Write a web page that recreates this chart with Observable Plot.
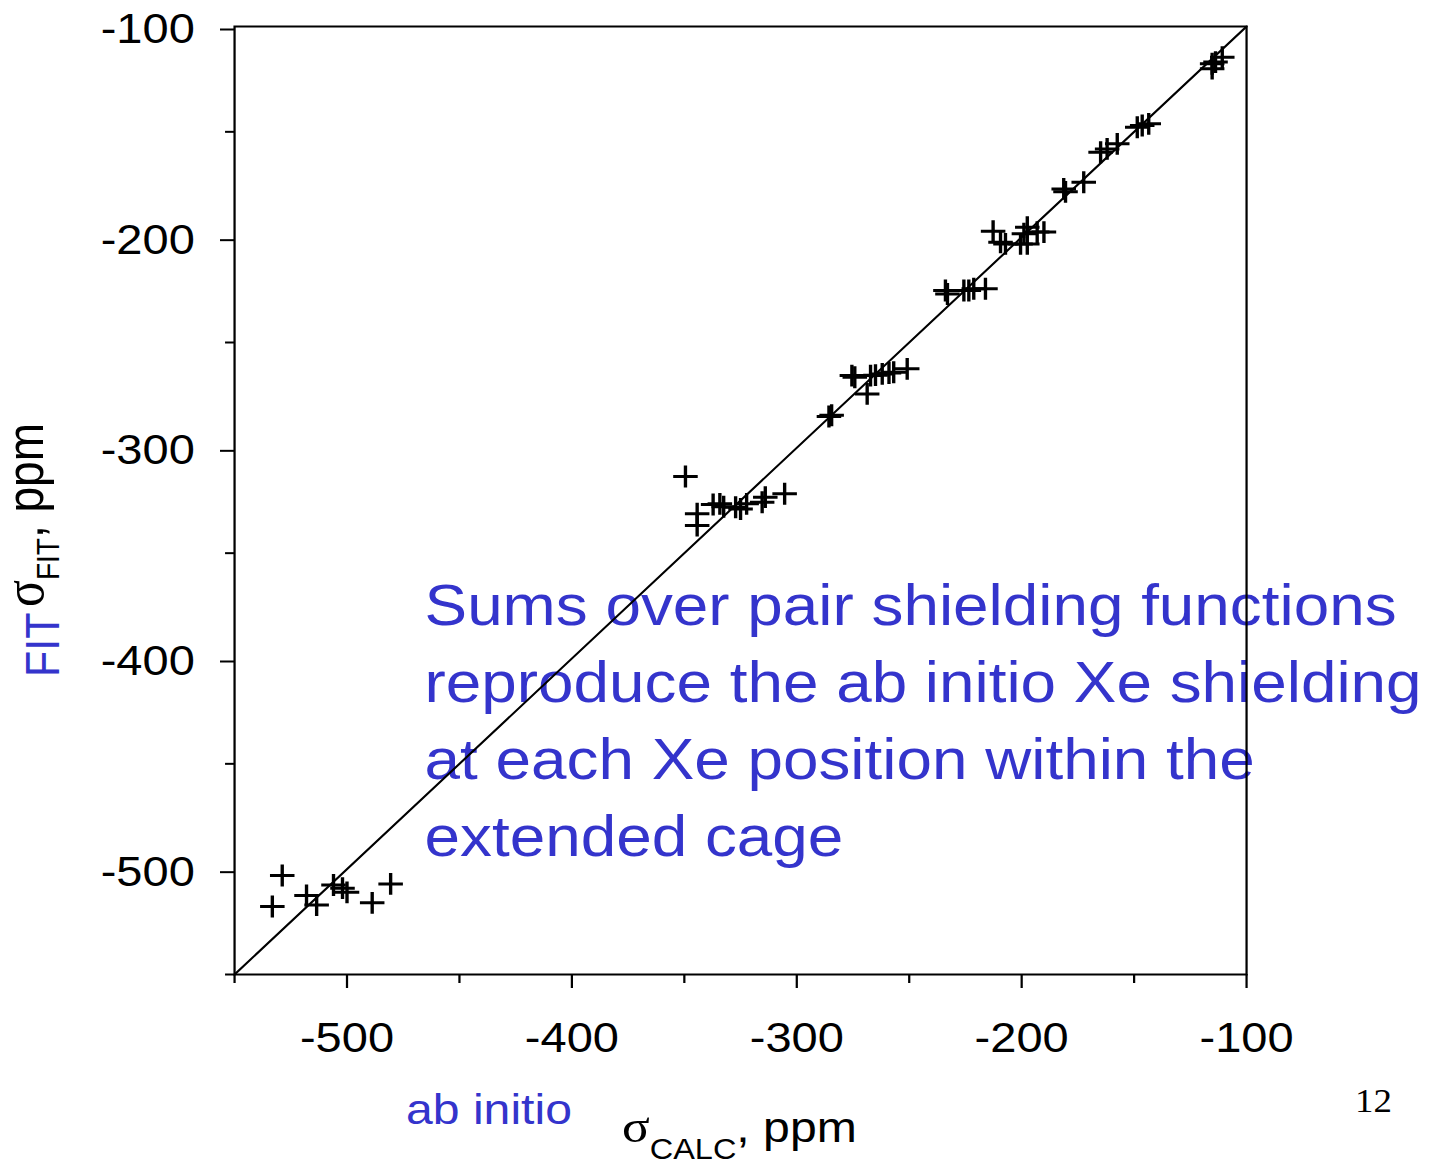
<!DOCTYPE html>
<html>
<head>
<meta charset="utf-8">
<script src="https://cdn.jsdelivr.net/npm/d3@7"></script>
<script src="https://cdn.jsdelivr.net/npm/@observablehq/plot@0.6"></script>
<style>
  html, body { margin: 0; padding: 0; background: #fff; }
  #chart svg { display: block; }
</style>
</head>
<body>
<div id="chart"></div>
<script>
// Xe shielding: ab initio values against sums of pair shielding functions (ppm)
const sigmaCalc = [
  -528.8, -533.2, -518, -513.5, -506, -502, -500, -488.8, -480.6,
  -349.5, -344.3, -344.3, -337.2, -334.2, -332.5, -327.2, -325, -322.3, -315.4, -314, -305.4,
  -285.7, -284.5, -275.5, -274.2, -267.2, -268.7, -265, -262, -259, -256.9, -250.9,
  -233.9, -233, -225.7, -223.5, -221.3, -216.1,
  -212.7, -209.4, -207.2, -200.5, -199, -197.5, -197.5, -193.1, -190.1,
  -181.3, -180.5, -172.4, -164.9, -162, -157.5, -148.6, -146.4, -143.5,
  -115.3, -115.3, -113.8, -110.8
];
const sigmaFit = [
  -503, -517.7, -512.5, -517, -507.5, -509, -511, -516, -507,
  -313.6, -331.3, -336.9, -326.9, -326.6, -328, -328.2, -329, -326.6, -325.8, -323.4, -321.8,
  -285.1, -284.5, -265.7, -266.5, -265.7, -274.4, -265.5, -264.9, -264.5, -264.1, -262.5,
  -225.3, -227, -225.3, -225.3, -224.5, -224.5,
  -197.2, -202.4, -203.2, -203.2, -198.4, -203.2, -195.3, -197.6, -197.6,
  -177.1, -178.5, -173.9, -159.7, -158.1, -155.7, -147.8, -147, -146.2,
  -117.7, -120, -116.9, -114.6
];
const domain = [-550, -100];
const diagonal = [-550, -100];
const majorTicks = [-500, -400, -300, -200, -100];
const minorTicks = [-550, -450, -350, -250, -150];
const note = [
  "Sums over pair shielding functions",
  "reproduce the ab initio Xe shielding",
  "at each Xe position within the",
  "extended cage"
];

const blue = "#3434cc";
const STRETCH = 1.12;            // slide artwork is drawn wider than tall
const OUT_W = 1437, OUT_H = 1164;
const W = OUT_W / STRETCH;
const frameLeft = 234 / STRETCH, frameRight = 1246 / STRETCH;

const points = sigmaCalc.map((c, i) => ({calc: c, fit: sigmaFit[i]}));
const fmt = d => String(d);

const chart = Plot.plot({
  width: W,
  height: OUT_H,
  marginLeft: frameLeft,
  marginRight: W - frameRight,
  marginTop: 26,
  marginBottom: 190,
  style: {fontFamily: "'Liberation Sans', Arial, sans-serif", color: "black", background: "white", overflow: "visible"},
  x: {domain},
  y: {domain},
  marks: [
    Plot.text([note.join("\n")], {
      frameAnchor: "top-left", dx: 424 / STRETCH - frameLeft, dy: 544,
      textAnchor: "start", lineAnchor: "top",
      fontSize: 57, lineHeight: 77 / 57, fill: blue
    }),
    Plot.axisX(majorTicks, {tickSize: 14, tickPadding: 34, fontSize: 42, tickFormat: fmt, label: null, strokeWidth: 2}),
    Plot.axisX(minorTicks, {tickSize: 9, text: null, label: null, strokeWidth: 2}),
    Plot.axisY(majorTicks, {tickSize: 12.5, tickPadding: 23, fontSize: 42, tickFormat: fmt, label: null, strokeWidth: 2, dy: 3}),
    Plot.axisY(minorTicks, {tickSize: 8, text: null, label: null, strokeWidth: 2}),
    Plot.frame({stroke: "black", strokeWidth: 2}),
    Plot.line(diagonal.map(v => ({x: v, y: v})), {x: "x", y: "y", stroke: "black", strokeWidth: 2}),
    Plot.dot(points, {x: "calc", y: "fit", symbol: "plus", r: 7.1, stroke: "black", strokeWidth: 3})
  ]
});

// stretch horizontally to the slide's proportions
chart.setAttribute("width", OUT_W);
chart.setAttribute("height", OUT_H);
chart.setAttribute("preserveAspectRatio", "none");
chart.style.width = OUT_W + "px";
chart.style.height = OUT_H + "px";
chart.style.maxWidth = "none";

const svg = d3.select(chart);
const sans = "'Liberation Sans', Arial, sans-serif";
const serif = "'Liberation Serif', 'Times New Roman', serif";

// x axis title: sigma_CALC, ppm
const xt = svg.append("text")
  .attr("x", 622 / STRETCH).attr("y", 1142).attr("text-anchor", "start")
  .attr("font-family", sans).attr("font-size", 43).attr("fill", "black");
xt.append("tspan").attr("font-family", serif).attr("font-size", 46).text("σ");
xt.append("tspan").attr("font-size", 29).attr("dy", 17).text("CALC");
xt.append("tspan").attr("dy", -17).text(", ppm");

// "ab initio" tag
svg.append("text")
  .attr("x", 406 / STRETCH).attr("y", 1124).attr("text-anchor", "start")
  .attr("font-family", sans).attr("font-size", 43).attr("fill", blue)
  .text("ab initio");

// y axis title: FIT sigma_FIT, ppm (rotated)
svg.append("text")
  .attr("transform", `translate(${59 / STRETCH},677) rotate(-90)`).attr("text-anchor", "start")
  .attr("font-family", sans).attr("font-size", 43).attr("fill", blue)
  .text("FIT");
const yt = svg.append("text")
  .attr("transform", `translate(${43 / STRETCH},607) rotate(-90)`).attr("text-anchor", "start")
  .attr("font-family", sans).attr("font-size", 46).attr("fill", "black");
yt.append("tspan").attr("font-family", serif).attr("font-size", 50).text("σ");
yt.append("tspan").attr("font-size", 28).attr("dy", 14).text("FIT");
yt.append("tspan").attr("dy", -14).text(", ppm");

// slide number
svg.append("text")
  .attr("x", 1355 / STRETCH).attr("y", 1112).attr("text-anchor", "start")
  .attr("font-family", serif).attr("font-size", 33).attr("fill", "black")
  .text("12");

document.getElementById("chart").append(chart);
</script>
</body>
</html>
